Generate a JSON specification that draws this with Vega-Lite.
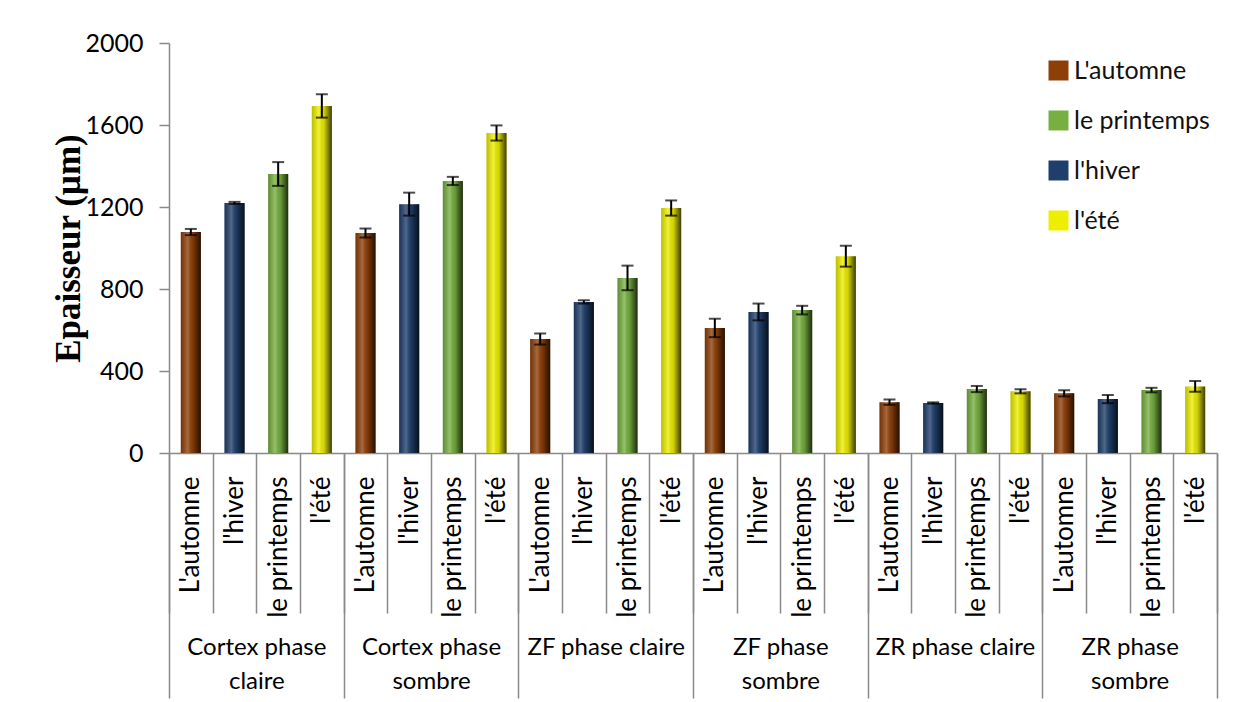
{
  "$schema": "https://vega.github.io/schema/vega-lite/v6.json",
  "autosize": {"type": "none"},
  "padding": {"left": 169, "top": 43, "right": 17, "bottom": 249},
  "width": 1048,
  "height": 410,
  "background": "white",
  "config": {"view": {"stroke": null}, "font": "Lato"},
  "data": {
    "values": [
      {"cat": "Cortex phase claire|L'automne", "group": "Cortex phase claire", "season": "L'automne", "value": 1078, "err": 15},
      {"cat": "Cortex phase claire|l'hiver", "group": "Cortex phase claire", "season": "l'hiver", "value": 1220, "err": 5},
      {"cat": "Cortex phase claire|le printemps", "group": "Cortex phase claire", "season": "le printemps", "value": 1361, "err": 58},
      {"cat": "Cortex phase claire|l'été", "group": "Cortex phase claire", "season": "l'été", "value": 1693, "err": 57},
      {"cat": "Cortex phase sombre|L'automne", "group": "Cortex phase sombre", "season": "L'automne", "value": 1073, "err": 22},
      {"cat": "Cortex phase sombre|l'hiver", "group": "Cortex phase sombre", "season": "l'hiver", "value": 1214, "err": 56},
      {"cat": "Cortex phase sombre|le printemps", "group": "Cortex phase sombre", "season": "le printemps", "value": 1327, "err": 20},
      {"cat": "Cortex phase sombre|l'été", "group": "Cortex phase sombre", "season": "l'été", "value": 1561, "err": 37},
      {"cat": "ZF phase claire|L'automne", "group": "ZF phase claire", "season": "L'automne", "value": 556, "err": 27},
      {"cat": "ZF phase claire|l'hiver", "group": "ZF phase claire", "season": "l'hiver", "value": 737, "err": 8},
      {"cat": "ZF phase claire|le printemps", "group": "ZF phase claire", "season": "le printemps", "value": 854, "err": 60},
      {"cat": "ZF phase claire|l'été", "group": "ZF phase claire", "season": "l'été", "value": 1195, "err": 37},
      {"cat": "ZF phase sombre|L'automne", "group": "ZF phase sombre", "season": "L'automne", "value": 610, "err": 45},
      {"cat": "ZF phase sombre|l'hiver", "group": "ZF phase sombre", "season": "l'hiver", "value": 688, "err": 41},
      {"cat": "ZF phase sombre|le printemps", "group": "ZF phase sombre", "season": "le printemps", "value": 697, "err": 21},
      {"cat": "ZF phase sombre|l'été", "group": "ZF phase sombre", "season": "l'été", "value": 960, "err": 51},
      {"cat": "ZR phase claire|L'automne", "group": "ZR phase claire", "season": "L'automne", "value": 248, "err": 13},
      {"cat": "ZR phase claire|l'hiver", "group": "ZR phase claire", "season": "l'hiver", "value": 244, "err": 3},
      {"cat": "ZR phase claire|le printemps", "group": "ZR phase claire", "season": "le printemps", "value": 312, "err": 15},
      {"cat": "ZR phase claire|l'été", "group": "ZR phase claire", "season": "l'été", "value": 301, "err": 10},
      {"cat": "ZR phase sombre|L'automne", "group": "ZR phase sombre", "season": "L'automne", "value": 291, "err": 15},
      {"cat": "ZR phase sombre|l'hiver", "group": "ZR phase sombre", "season": "l'hiver", "value": 263, "err": 20},
      {"cat": "ZR phase sombre|le printemps", "group": "ZR phase sombre", "season": "le printemps", "value": 307, "err": 11},
      {"cat": "ZR phase sombre|l'été", "group": "ZR phase sombre", "season": "l'été", "value": 325, "err": 26}
    ]
  },
  "layer": [
    {
      "encoding": {
        "x": {
          "field": "cat", "type": "nominal", "sort": null,
          "scale": {"type": "band", "paddingInner": 0, "paddingOuter": 0},
          "axis": {
            "title": null,
            "labelExpr": "split(datum.label, '|')[1]",
            "labelAngle": -90, "labelAlign": "right", "labelBaseline": "middle",
            "labelOverlap": false,
            "tickBand": "extent", "tickSize": 160, "labelPadding": -137,
            "domainColor": "#898989", "tickColor": "#898989", "domainWidth": 1.5, "tickWidth": 1.5,
            "labelFont": "Lato", "labelFontSize": 26, "labelColor": "#000000"
          }
        },
        "y": {
          "field": "value", "type": "quantitative",
          "scale": {"domain": [0, 2000], "nice": false},
          "axis": {
            "title": "Epaisseur (µm)",
            "values": [0, 400, 800, 1200, 1600, 2000],
            "format": "d",
            "grid": false,
            "domainColor": "#898989", "tickColor": "#898989", "domainWidth": 1.5, "tickWidth": 1.5,
            "tickSize": 10, "labelPadding": 16,
            "labelFont": "Lato", "labelFontSize": 25, "labelColor": "#000000",
            "titleFont": "Liberation Serif", "titleFontWeight": "bold", "titleFontSize": 35,
            "titleColor": "#000000", "titlePadding": -2
          }
        }
      },
      "layer": [
        {
          "mark": {"type": "bar", "width": {"band": 0.46}},
          "encoding": {
            "color": {
              "field": "season", "type": "nominal",
              "scale": {
                "domain": ["L'automne", "le printemps", "l'hiver", "l'été"],
                "range": ["#8E3F07", "#77B040", "#1F3F6B", "#EEEE00"]
              },
              "legend": {
                "title": null, "orient": "none", "legendX": 877, "legendY": 15,
                "symbolType": "square", "symbolSize": 400, "symbolStrokeWidth": 0,
                "labelFont": "Lato", "labelFontSize": 25, "labelColor": "#111111",
                "labelOffset": 3, "rowPadding": 24
              }
            }
          }
        },
        {
          "mark": {
            "type": "bar", "width": {"band": 0.46},
            "fill": {
              "gradient": "linear", "x1": 0, "x2": 1, "y1": 0, "y2": 0,
              "stops": [
                {"offset": 0, "color": "rgba(0,0,0,0.2)"},
                {"offset": 0.35, "color": "rgba(255,255,255,0.22)"},
                {"offset": 0.6, "color": "rgba(0,0,0,0.1)"},
                {"offset": 1, "color": "rgba(0,0,0,0.75)"}
              ]
            }
          }
        },
        {
          "mark": {"type": "errorbar", "color": "#000000", "thickness": 2, "ticks": {"size": 12, "thickness": 2, "color": "#000000"}},
          "encoding": {
            "y": {"field": "value", "type": "quantitative"},
            "yError": {"field": "err"}
          }
        }
      ]
    },
    {
      "mark": {"type": "rect", "opacity": 0},
      "encoding": {
        "x": {
          "field": "group", "type": "nominal", "sort": null,
          "scale": {"type": "band", "paddingInner": 0, "paddingOuter": 0},
          "axis": {
            "orient": "bottom", "title": null, "domain": false,
            "tickBand": "extent", "tickSize": 245, "tickColor": "#898989", "tickWidth": 1.5,
            "labelPadding": -63, "labelBaseline": "top", "labelAngle": 0, "labelAlign": "center",
            "labelOverlap": false,
            "labelExpr": "indexof(datum.label, 'Cortex') == 0 || indexof(datum.label, 'sombre') > 0 ? [slice(datum.label, 0, lastindexof(datum.label, ' ')), slice(datum.label, lastindexof(datum.label, ' ') + 1)] : datum.label",
            "labelLineHeight": 34,
            "labelFont": "Lato", "labelFontSize": 24, "labelColor": "#000000"
          }
        }
      }
    }
  ],
  "resolve": {"scale": {"x": "independent"}, "axis": {"x": "independent"}}
}
